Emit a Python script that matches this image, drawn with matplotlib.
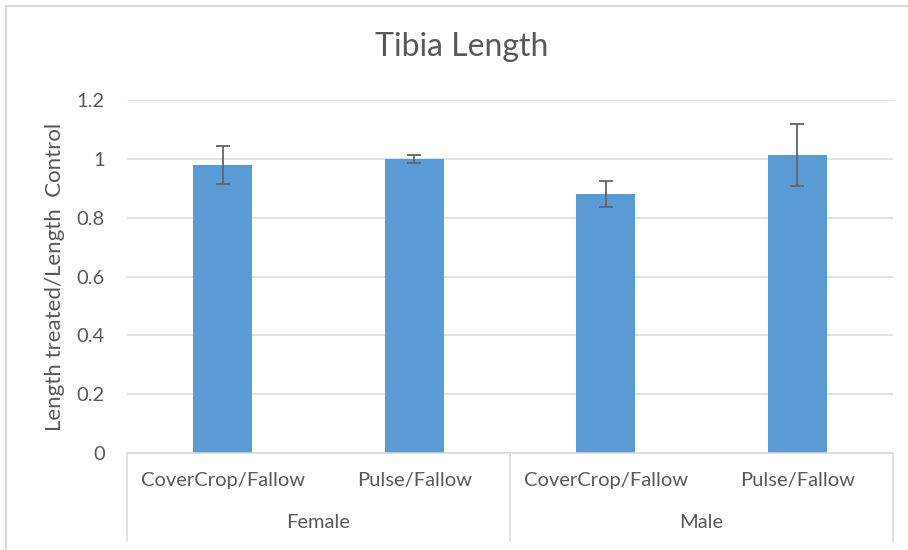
import matplotlib.pyplot as plt
from matplotlib.patches import Rectangle

plt.rcParams['font.family'] = ['Lato', 'DejaVu Sans']

# data
groups = ['Female', 'Male']
treatments = ['CoverCrop/Fallow', 'Pulse/Fallow', 'CoverCrop/Fallow', 'Pulse/Fallow']
ratio = [0.98, 1.0, 0.88, 1.013]
err = [0.064, 0.013, 0.045, 0.107]

grey_txt = '#595959'
grid_col = '#D9D9D9'

fig = plt.figure(figsize=(9.08, 5.5), dpi=100)
ax = fig.add_axes([127 / 908, 1 - 453 / 550, (893 - 127) / 908, (453 - 100) / 550])

x = list(range(len(treatments)))
ax.bar(x, ratio, width=0.31, color='#5B9BD5', zorder=2)
ax.errorbar(x, ratio, yerr=err, fmt='none', ecolor='#646464',
            elinewidth=1.3, capsize=5, capthick=1.3, zorder=3)

ax.set_xlim(-0.5, len(treatments) - 0.5)
ax.set_ylim(0, 1.2)
ax.set_yticks([0, 0.2, 0.4, 0.6, 0.8, 1.0, 1.2])
ax.set_yticklabels(['0', '0.2', '0.4', '0.6', '0.8', '1', '1.2'])
ax.yaxis.grid(True, color=grid_col, linewidth=1.1, zorder=0)
ax.set_axisbelow(True)
ax.tick_params(axis='y', length=0, pad=16, labelsize=14.5, labelcolor=grey_txt)
ax.set_xticks([])
for s in ['left', 'right', 'top']:
    ax.spines[s].set_visible(False)
ax.spines['bottom'].set_color(grid_col)
ax.spines['bottom'].set_linewidth(1.1)

# two-level category axis
for xi, lab in zip(x, treatments):
    ax.text(xi, -0.0765, lab, transform=ax.get_xaxis_transform(),
            ha='center', va='center', fontsize=14.5, color=grey_txt)
n = len(treatments) // len(groups)
for gi, g in enumerate(groups):
    ax.text(gi * n + (n - 1) / 2, -0.198, g, transform=ax.get_xaxis_transform(),
            ha='center', va='center', fontsize=14.5, color=grey_txt)
for sep in range(len(groups) + 1):
    ax.plot([sep * n - 0.5] * 2, [0, -0.249], transform=ax.get_xaxis_transform(),
            color=grid_col, linewidth=1.1, clip_on=False)

ax.set_ylabel('Length treated/Length  Control', fontsize=16, color=grey_txt)
ax.yaxis.set_label_coords(-0.081, 0.5)
fig.text(462 / 908, 1 - 47 / 550, 'Tibia Length', ha='center', va='center',
         fontsize=23, color=grey_txt)

# chart area border
fig.add_artist(Rectangle((6 / 908, -0.1), 1.2, 1.1 - 6 / 550, transform=fig.transFigure,
                         fill=False, edgecolor=grid_col, linewidth=1.5))

fig.savefig('out.png', dpi=100)
